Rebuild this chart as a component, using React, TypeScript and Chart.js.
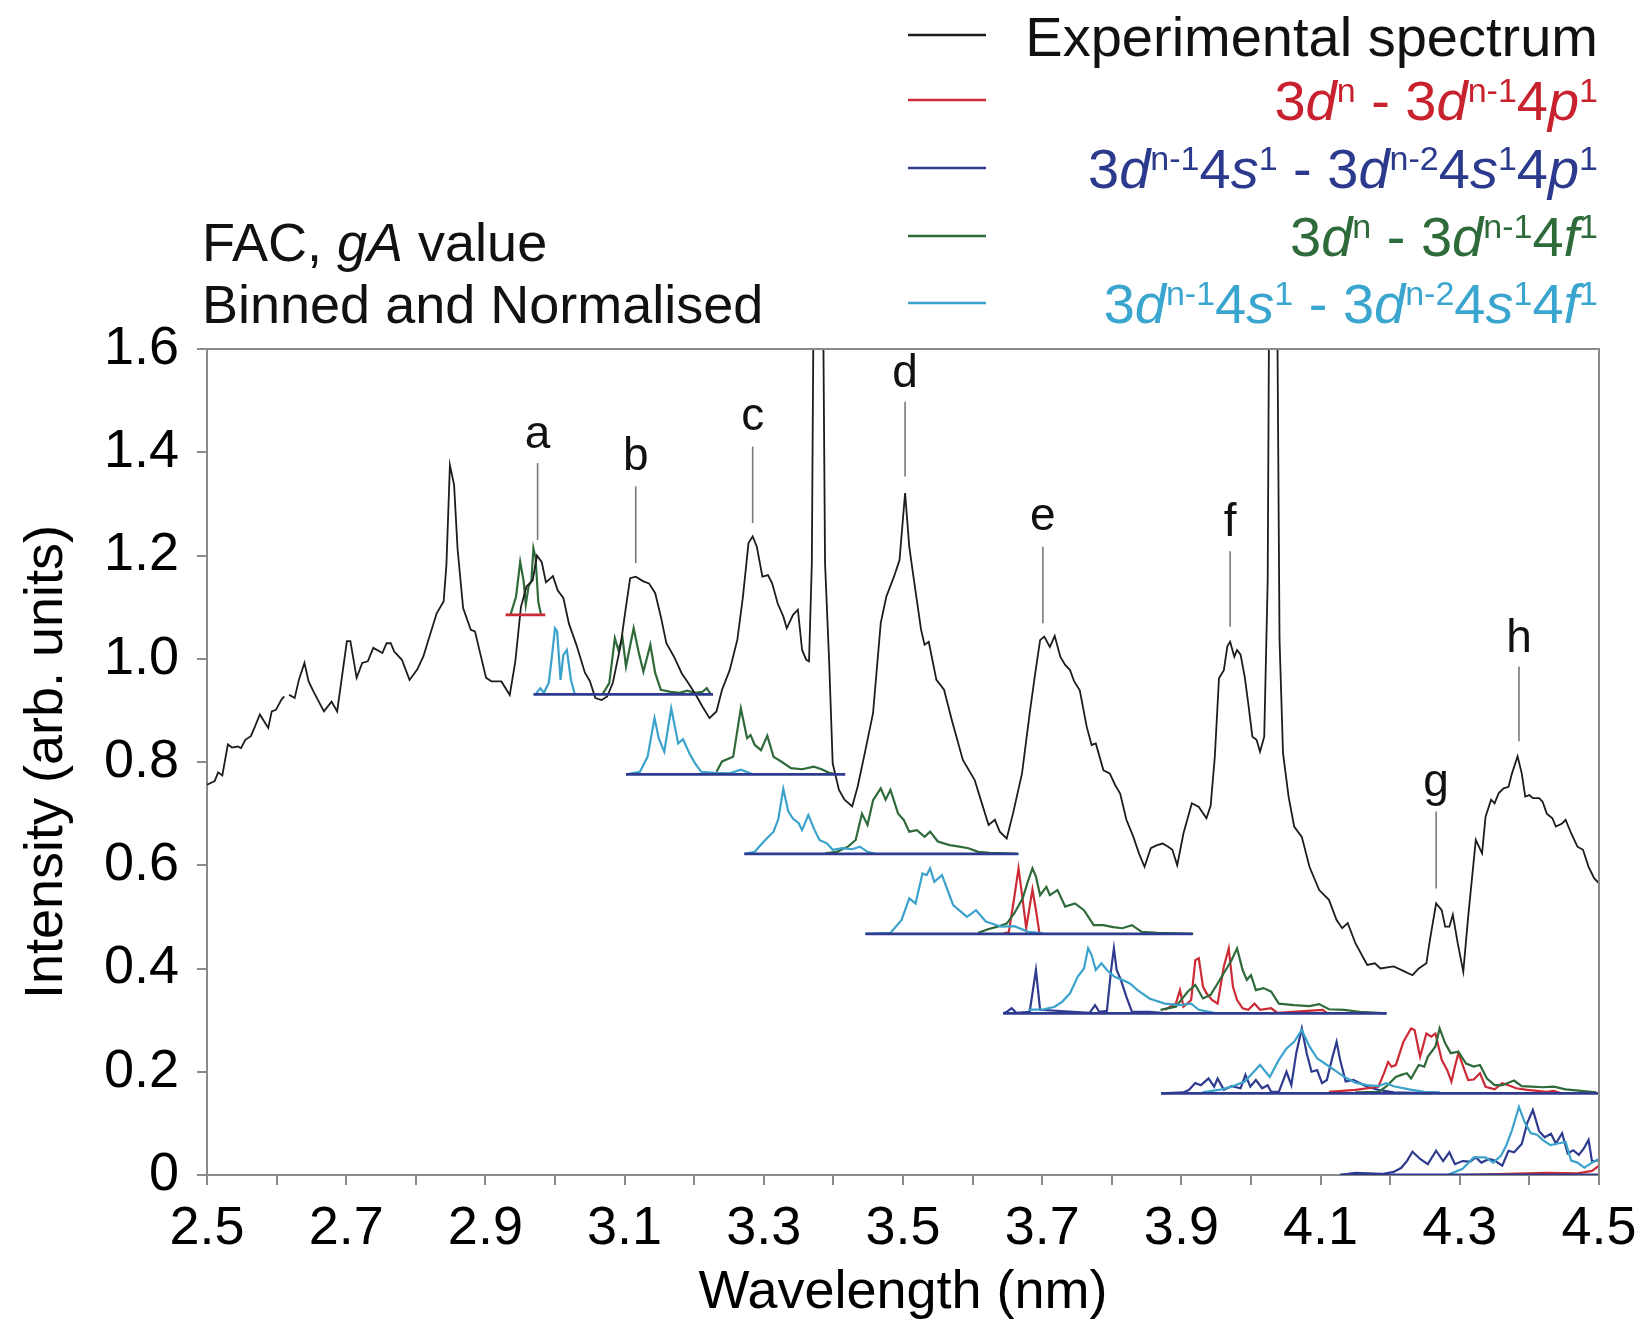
import React, { useEffect, useRef } from 'react';
import { Chart, registerables } from 'chart.js';

Chart.register(...registerables);

const FONT = "'Liberation Sans', Arial, Helvetica, sans-serif";

// ---------- Experimental spectrum ----------
const expWavelength = [
  2.5, 2.511, 2.516, 2.522, 2.53, 2.536, 2.544, 2.549, 2.555, 2.563, 2.569, 2.576, 2.582, 2.588, 2.593, 2.599, 2.607, 2.611, 2.614,
  2.618, 2.626, 2.632, 2.64, 2.646, 2.654, 2.668, 2.679, 2.687, 2.701, 2.706, 2.715, 2.723, 2.731, 2.739, 2.752, 2.758, 2.764, 2.769,
  2.78, 2.791, 2.802, 2.811, 2.819, 2.83, 2.84, 2.844, 2.849, 2.855, 2.86, 2.868, 2.879, 2.885, 2.901, 2.909, 2.923, 2.935, 2.943,
  2.951, 2.959, 2.968, 2.974, 2.981, 2.987, 2.997, 3.004, 3.012, 3.02, 3.031, 3.043, 3.05, 3.058, 3.067, 3.075, 3.083, 3.094, 3.102,
  3.108, 3.116, 3.127, 3.135, 3.144, 3.152, 3.16, 3.171, 3.182, 3.19, 3.201, 3.212, 3.222, 3.232, 3.24, 3.251, 3.262, 3.27, 3.278,
  3.284, 3.29, 3.298, 3.306, 3.312, 3.32, 3.328, 3.333, 3.342, 3.349, 3.355, 3.361, 3.365, 3.369, 3.378, 3.388, 3.394, 3.399, 3.408,
  3.416, 3.427, 3.435, 3.446, 3.457, 3.468, 3.476, 3.487, 3.495, 3.503, 3.509, 3.515, 3.526, 3.531, 3.537, 3.548, 3.559, 3.57, 3.586,
  3.603, 3.611, 3.623, 3.632, 3.639, 3.649, 3.658, 3.671, 3.682, 3.69, 3.697, 3.703, 3.711, 3.718, 3.726, 3.733, 3.74, 3.746, 3.754,
  3.764, 3.771, 3.777, 3.788, 3.797, 3.805, 3.812, 3.821, 3.831, 3.839, 3.847, 3.856, 3.865, 3.873, 3.881, 3.887, 3.894, 3.903, 3.915,
  3.925, 3.936, 3.942, 3.948, 3.954, 3.961, 3.966, 3.97, 3.976, 3.98, 3.985, 3.991, 3.996, 4.002, 4.008, 4.013, 4.019, 4.024, 4.031,
  4.041, 4.046, 4.054, 4.062, 4.073, 4.084, 4.098, 4.112, 4.123, 4.131, 4.139, 4.15, 4.167, 4.178, 4.186, 4.205, 4.221, 4.232, 4.241,
  4.252, 4.257, 4.266, 4.274, 4.279, 4.285, 4.29, 4.297, 4.305, 4.312, 4.323, 4.332, 4.337, 4.345, 4.35, 4.356, 4.363, 4.37, 4.375,
  4.383, 4.389, 4.394, 4.4, 4.405, 4.414, 4.419, 4.425, 4.433, 4.438, 4.447, 4.452, 4.46, 4.469, 4.477, 4.485, 4.493, 4.5,
];
const expIntensity: (number | null)[] = [
  0.756, 0.763, 0.78, 0.774, 0.834, 0.828, 0.83, 0.827, 0.843, 0.85, 0.869, 0.892, 0.879, 0.866, 0.898, 0.901, 0.921, 0.927, null,
  0.93, 0.924, 0.959, 0.992, 0.956, 0.934, 0.898, 0.917, 0.898, 1.034, 1.034, 0.963, 0.992, 0.995, 1.021, 1.011, 1.03, 1.03, 1.014,
  0.998, 0.959, 0.979, 1.005, 1.04, 1.088, 1.111, 1.182, 1.375, 1.337, 1.213, 1.098, 1.056, 1.053, 0.963, 0.956, 0.956, 0.93, 0.995,
  1.1, 1.14, 1.152, 1.2, 1.187, 1.148, 1.16, 1.132, 1.118, 1.068, 1.026, 0.973, 0.957, 0.924, 0.92, 0.927, 0.953, 1.024, 1.101,
  1.156, 1.159, 1.15, 1.146, 1.127, 1.082, 1.03, 1.004, 0.972, 0.956, 0.933, 0.907, 0.885, 0.898, 0.94, 0.978, 1.037, 1.12, 1.224,
  1.237, 1.217, 1.159, 1.162, 1.146, 1.107, 1.082, 1.059, 1.085, 1.095, 1.017, 0.998, 0.995, 1.185, 3.0, 1.185, 0.991, 0.797, 0.746,
  0.727, 0.714, 0.753, 0.823, 0.895, 1.069, 1.12, 1.159, 1.191, 1.321, 1.217, 1.159, 1.056, 1.027, 1.033, 0.959, 0.94, 0.882, 0.804,
  0.765, 0.73, 0.678, 0.688, 0.665, 0.652, 0.7, 0.778, 0.894, 0.972, 1.036, 1.043, 1.023, 1.044, 1.004, 0.988, 0.978, 0.956, 0.939,
  0.868, 0.833, 0.836, 0.784, 0.778, 0.755, 0.739, 0.688, 0.655, 0.623, 0.597, 0.633, 0.639, 0.642, 0.636, 0.63, 0.6, 0.662, 0.72,
  0.713, 0.691, 0.715, 0.81, 0.962, 0.978, 1.024, 1.033, 1.004, 1.017, 1.008, 0.965, 0.914, 0.849, 0.843, 0.82, 0.849, 1.153, 3.0,
  1.037, 0.817, 0.733, 0.675, 0.655, 0.597, 0.552, 0.533, 0.494, 0.478, 0.488, 0.449, 0.407, 0.41, 0.4, 0.404, 0.394, 0.387, 0.4,
  0.41, 0.455, 0.526, 0.513, 0.481, 0.481, 0.504, 0.449, 0.394, 0.5, 0.649, 0.623, 0.694, 0.727, 0.72, 0.74, 0.749, 0.752, 0.778,
  0.811, 0.778, 0.733, 0.736, 0.73, 0.73, 0.723, 0.7, 0.691, 0.675, 0.681, 0.688, 0.662, 0.636, 0.63, 0.597, 0.575, 0.565,
];

// ---------- Simulated (FAC) offset spectra, [wavelength, intensity] ----------
const simA_green = [[2.936,1.085],[2.944,1.12],[2.95,1.188],[2.955,1.15],[2.958,1.105],[2.962,1.14],[2.966,1.15],[2.969,1.214],[2.972,1.196],[2.976,1.11],[2.98,1.085]];

const simB_cyan = [[2.973,0.933],[2.979,0.943],[2.984,0.934],[2.991,0.953],[2.995,0.998],[3.0,1.059],[3.003,1.053],[3.008,0.959],[3.012,1.007],[3.017,1.017],[3.023,0.959],[3.028,0.933]];
const simB_green = [[3.069,0.933],[3.078,0.953],[3.086,1.04],[3.091,1.017],[3.097,1.04],[3.102,0.985],[3.113,1.059],[3.12,1.014],[3.127,0.975],[3.137,1.027],[3.144,0.972],[3.152,0.94],[3.166,0.936],[3.179,0.934],[3.19,0.938],[3.201,0.934],[3.212,0.936],[3.218,0.943],[3.223,0.933]];

const simC_cyan = [[3.102,0.776],[3.122,0.781],[3.133,0.81],[3.143,0.885],[3.149,0.846],[3.157,0.82],[3.167,0.904],[3.177,0.836],[3.184,0.844],[3.193,0.817],[3.201,0.798],[3.21,0.781],[3.229,0.779],[3.251,0.778],[3.267,0.785],[3.284,0.776]];
const simC_green = [[3.232,0.781],[3.24,0.801],[3.256,0.81],[3.267,0.904],[3.276,0.846],[3.281,0.852],[3.287,0.833],[3.296,0.823],[3.305,0.851],[3.314,0.81],[3.325,0.801],[3.339,0.788],[3.355,0.786],[3.372,0.791],[3.383,0.786],[3.394,0.779],[3.405,0.776]];

const simD_cyan = [[3.272,0.622],[3.287,0.626],[3.3,0.646],[3.314,0.665],[3.321,0.69],[3.328,0.748],[3.335,0.705],[3.342,0.69],[3.35,0.682],[3.355,0.668],[3.364,0.697],[3.373,0.668],[3.38,0.649],[3.391,0.642],[3.399,0.63],[3.413,0.633],[3.427,0.631],[3.438,0.636],[3.449,0.626],[3.46,0.622]];
const simD_green = [[3.388,0.623],[3.405,0.626],[3.421,0.636],[3.432,0.649],[3.441,0.7],[3.449,0.678],[3.457,0.726],[3.468,0.749],[3.475,0.727],[3.482,0.746],[3.493,0.7],[3.501,0.688],[3.509,0.665],[3.52,0.668],[3.531,0.655],[3.539,0.665],[3.55,0.646],[3.567,0.639],[3.581,0.636],[3.594,0.633],[3.608,0.626],[3.625,0.624],[3.647,0.623],[3.663,0.622]];

const simE_cyan = [[3.446,0.467],[3.482,0.469],[3.498,0.494],[3.509,0.536],[3.518,0.526],[3.528,0.584],[3.534,0.581],[3.539,0.594],[3.545,0.568],[3.556,0.581],[3.572,0.523],[3.592,0.5],[3.605,0.513],[3.619,0.491],[3.641,0.481],[3.66,0.482],[3.68,0.471],[3.702,0.468]];
const simE_red = [[3.645,0.468],[3.652,0.47],[3.66,0.539],[3.666,0.594],[3.672,0.533],[3.677,0.478],[3.682,0.52],[3.686,0.553],[3.691,0.513],[3.696,0.469]];
const simE_green = [[3.608,0.469],[3.622,0.476],[3.636,0.481],[3.649,0.487],[3.66,0.507],[3.672,0.536],[3.68,0.571],[3.686,0.594],[3.691,0.578],[3.697,0.542],[3.706,0.558],[3.711,0.542],[3.722,0.552],[3.733,0.52],[3.747,0.526],[3.76,0.513],[3.774,0.484],[3.788,0.484],[3.802,0.48],[3.815,0.478],[3.829,0.484],[3.843,0.471],[3.865,0.469],[3.892,0.468],[3.917,0.467]];

const simF_blue = [[3.644,0.313],[3.649,0.316],[3.656,0.323],[3.663,0.314],[3.682,0.316],[3.691,0.397],[3.697,0.32],[3.768,0.314],[3.776,0.329],[3.782,0.316],[3.793,0.318],[3.799,0.397],[3.803,0.439],[3.807,0.397],[3.813,0.378],[3.821,0.345],[3.829,0.316],[3.854,0.316],[3.88,0.313]];
const simF_cyan = [[3.68,0.32],[3.702,0.321],[3.718,0.326],[3.729,0.336],[3.74,0.352],[3.751,0.384],[3.76,0.4],[3.766,0.439],[3.771,0.426],[3.777,0.397],[3.785,0.41],[3.793,0.397],[3.804,0.384],[3.815,0.378],[3.826,0.371],[3.837,0.358],[3.854,0.342],[3.876,0.332],[3.898,0.329],[3.914,0.332],[3.925,0.32],[3.947,0.314]];
const simF_red = [[3.876,0.32],[3.892,0.332],[3.898,0.358],[3.903,0.326],[3.914,0.339],[3.92,0.416],[3.925,0.42],[3.931,0.365],[3.936,0.352],[3.944,0.339],[3.952,0.332],[3.961,0.404],[3.968,0.439],[3.974,0.365],[3.98,0.339],[3.988,0.323],[3.996,0.32],[4.005,0.332],[4.013,0.32],[4.029,0.323],[4.038,0.314],[4.103,0.32],[4.109,0.314]];
const simF_green = [[3.87,0.32],[3.892,0.326],[3.909,0.355],[3.92,0.368],[3.931,0.342],[3.942,0.349],[3.952,0.371],[3.965,0.4],[3.972,0.416],[3.98,0.439],[3.988,0.397],[3.994,0.378],[4.0,0.387],[4.007,0.358],[4.018,0.362],[4.029,0.355],[4.04,0.332],[4.062,0.329],[4.084,0.327],[4.098,0.331],[4.112,0.321],[4.134,0.32],[4.156,0.316],[4.183,0.314],[4.194,0.313]];

const simG_blue = [[3.871,0.158],[3.903,0.16],[3.911,0.165],[3.92,0.178],[3.928,0.174],[3.939,0.187],[3.947,0.171],[3.952,0.187],[3.961,0.165],[3.972,0.172],[3.985,0.168],[3.992,0.194],[3.999,0.171],[4.007,0.184],[4.016,0.168],[4.024,0.174],[4.029,0.161],[4.04,0.161],[4.051,0.2],[4.058,0.174],[4.065,0.236],[4.073,0.284],[4.08,0.236],[4.087,0.2],[4.095,0.203],[4.102,0.178],[4.109,0.184],[4.116,0.223],[4.123,0.258],[4.128,0.223],[4.136,0.181],[4.147,0.184],[4.156,0.178],[4.167,0.171],[4.183,0.165],[4.205,0.16],[4.26,0.158]];
const simG_cyan = [[3.93,0.16],[3.958,0.166],[3.974,0.172],[3.991,0.181],[4.002,0.197],[4.013,0.213],[4.027,0.19],[4.04,0.223],[4.051,0.245],[4.062,0.258],[4.073,0.281],[4.084,0.249],[4.095,0.226],[4.106,0.216],[4.12,0.203],[4.134,0.19],[4.15,0.179],[4.167,0.174],[4.183,0.172],[4.194,0.178],[4.205,0.172],[4.227,0.166],[4.249,0.161],[4.271,0.16]];
const simG_red = [[4.112,0.161],[4.15,0.165],[4.183,0.171],[4.191,0.197],[4.197,0.219],[4.202,0.21],[4.208,0.213],[4.219,0.258],[4.23,0.284],[4.235,0.281],[4.243,0.229],[4.252,0.274],[4.259,0.268],[4.265,0.274],[4.274,0.223],[4.282,0.203],[4.288,0.181],[4.293,0.21],[4.298,0.236],[4.305,0.21],[4.312,0.184],[4.32,0.185],[4.329,0.197],[4.337,0.171],[4.35,0.166],[4.361,0.178],[4.37,0.174],[4.381,0.168],[4.397,0.165],[4.425,0.161],[4.435,0.163],[4.447,0.158]];
const simG_green = [[4.15,0.16],[4.183,0.161],[4.194,0.171],[4.208,0.19],[4.216,0.194],[4.224,0.197],[4.23,0.187],[4.241,0.213],[4.249,0.21],[4.254,0.229],[4.265,0.249],[4.271,0.284],[4.279,0.255],[4.287,0.236],[4.298,0.239],[4.309,0.216],[4.32,0.21],[4.329,0.213],[4.339,0.187],[4.35,0.174],[4.361,0.174],[4.378,0.183],[4.389,0.172],[4.403,0.171],[4.419,0.17],[4.435,0.171],[4.452,0.166],[4.474,0.163],[4.496,0.16]];

const simH_blue = [[4.128,0.0],[4.15,0.004],[4.188,0.002],[4.205,0.006],[4.216,0.014],[4.224,0.027],[4.232,0.045],[4.243,0.031],[4.254,0.021],[4.266,0.047],[4.276,0.027],[4.285,0.044],[4.293,0.021],[4.304,0.027],[4.315,0.026],[4.323,0.034],[4.331,0.024],[4.342,0.031],[4.35,0.028],[4.361,0.018],[4.37,0.047],[4.378,0.044],[4.389,0.06],[4.397,0.101],[4.405,0.126],[4.414,0.085],[4.422,0.073],[4.431,0.08],[4.438,0.061],[4.447,0.081],[4.455,0.042],[4.463,0.048],[4.471,0.039],[4.478,0.051],[4.485,0.068],[4.49,0.026],[4.5,0.029]];
const simH_cyan = [[4.282,0.0],[4.304,0.012],[4.32,0.034],[4.337,0.034],[4.348,0.024],[4.359,0.037],[4.367,0.058],[4.375,0.087],[4.385,0.132],[4.393,0.103],[4.402,0.081],[4.411,0.078],[4.419,0.068],[4.43,0.058],[4.441,0.061],[4.452,0.064],[4.46,0.028],[4.469,0.024],[4.479,0.014],[4.49,0.024],[4.5,0.031]];
const simH_red = [[4.3,0.0],[4.425,0.004],[4.469,0.003],[4.49,0.008],[4.5,0.018]];

// ---------- Offset baselines of the simulated spectra ----------
const baselineLevel = [1.085, 0.931, 0.776, 0.622, 0.467, 0.313, 0.158, 0.0];
const baselineStart = [2.929, 2.969, 3.102, 3.272, 3.446, 3.644, 3.871, 4.128];
const baselineEnd = [2.986, 3.227, 3.417, 3.666, 3.916, 4.195, 4.5, 4.5];

// ---------- Peak labels ----------
const peakLetters = ['a', 'b', 'c', 'd', 'e', 'f', 'g', 'h'];
const peakWavelength = [2.975, 3.116, 3.284, 3.503, 3.701, 3.97, 4.266, 4.385];
const peakTextBase = [1.408, 1.366, 1.443, 1.527, 1.25, 1.237, 0.735, 1.014];
const peakLineTop = [1.379, 1.334, 1.411, 1.498, 1.217, 1.208, 0.704, 0.985];
const peakLineBottom = [1.23, 1.185, 1.263, 1.353, 1.069, 1.062, 0.555, 0.84];

// ---------- Colours ----------
const C_BLACK = '#1c1c1c';
const C_RED = '#cc2b36';
const C_BLUE = '#2e3b8e';
const C_GREEN = '#2f6a3b';
const C_CYAN = '#3ba3cb';
const C_AXIS = '#8a8a8a';

type Seg = { t: string; it?: boolean; sup?: boolean };
const legendRows: { color: string; segs: Seg[] }[] = [
  { color: '#111111', segs: [{ t: 'Experimental spectrum' }] },
  { color: '#c8222f', segs: [{ t: '3' }, { t: 'd', it: true }, { t: 'n', sup: true }, { t: ' - 3' }, { t: 'd', it: true }, { t: 'n-1', sup: true }, { t: '4' }, { t: 'p', it: true }, { t: '1', sup: true }] },
  { color: '#2b3a8c', segs: [{ t: '3' }, { t: 'd', it: true }, { t: 'n-1', sup: true }, { t: '4' }, { t: 's', it: true }, { t: '1', sup: true }, { t: ' - 3' }, { t: 'd', it: true }, { t: 'n-2', sup: true }, { t: '4' }, { t: 's', it: true }, { t: '1', sup: true }, { t: '4' }, { t: 'p', it: true }, { t: '1', sup: true }] },
  { color: '#2e6a3a', segs: [{ t: '3' }, { t: 'd', it: true }, { t: 'n', sup: true }, { t: ' - 3' }, { t: 'd', it: true }, { t: 'n-1', sup: true }, { t: '4' }, { t: 'f', it: true }, { t: '1', sup: true }] },
  { color: '#3aa6cf', segs: [{ t: '3' }, { t: 'd', it: true }, { t: 'n-1', sup: true }, { t: '4' }, { t: 's', it: true }, { t: '1', sup: true }, { t: ' - 3' }, { t: 'd', it: true }, { t: 'n-2', sup: true }, { t: '4' }, { t: 's', it: true }, { t: '1', sup: true }, { t: '4' }, { t: 'f', it: true }, { t: '1', sup: true }] },
];
const legendLineColors = [C_BLACK, C_RED, C_BLUE, C_GREEN, C_CYAN];

function drawRich(ctx: CanvasRenderingContext2D, segs: Seg[], anchorX: number, baseY: number, color: string, size: number, align: 'left' | 'right') {
  const fontOf = (s: Seg) => `${s.it ? 'italic ' : ''}${s.sup ? Math.round(size * 0.6) : size}px ${FONT}`;
  let w = 0;
  for (const s of segs) {
    ctx.font = fontOf(s);
    w += ctx.measureText(s.t).width;
  }
  let x = align === 'right' ? anchorX - w : anchorX;
  ctx.fillStyle = color;
  ctx.textAlign = 'left';
  ctx.textBaseline = 'alphabetic';
  for (const s of segs) {
    ctx.font = fontOf(s);
    ctx.fillText(s.t, x, s.sup ? baseY - size * 0.33 : baseY);
    x += ctx.measureText(s.t).width;
  }
}

const decorPlugin = {
  id: 'decor',
  afterDatasetsDraw(chart: any) {
    const { ctx, chartArea, scales } = chart;
    const xs = scales.x;
    const ys = scales.y;
    ctx.save();
    // frame (top & right)
    ctx.strokeStyle = C_AXIS;
    ctx.lineWidth = 2;
    ctx.beginPath();
    ctx.moveTo(chartArea.left, chartArea.top);
    ctx.lineTo(chartArea.right, chartArea.top);
    ctx.lineTo(chartArea.right, chartArea.bottom);
    ctx.stroke();
    // peak labels
    ctx.strokeStyle = '#7a7a7a';
    ctx.lineWidth = 1.6;
    for (let i = 0; i < peakLetters.length; i++) {
      const px = xs.getPixelForValue(peakWavelength[i]);
      ctx.beginPath();
      ctx.moveTo(px, ys.getPixelForValue(peakLineTop[i]));
      ctx.lineTo(px, ys.getPixelForValue(peakLineBottom[i]));
      ctx.stroke();
      ctx.fillStyle = '#111';
      ctx.font = `46px ${FONT}`;
      ctx.textAlign = 'center';
      ctx.textBaseline = 'alphabetic';
      ctx.fillText(peakLetters[i], px, ys.getPixelForValue(peakTextBase[i]));
    }
    ctx.restore();
  },
  afterDraw(chart: any) {
    const { ctx } = chart;
    ctx.save();
    // legend
    const rowBase = [56, 120, 188, 256, 323];
    const rowLine = [35, 100, 168, 236, 303];
    for (let i = 0; i < legendRows.length; i++) {
      ctx.strokeStyle = legendLineColors[i];
      ctx.lineWidth = 2.5;
      ctx.beginPath();
      ctx.moveTo(908, rowLine[i]);
      ctx.lineTo(986, rowLine[i]);
      ctx.stroke();
      drawRich(ctx, legendRows[i].segs, 1598, rowBase[i], legendRows[i].color, 56, 'right');
    }
    // method note
    drawRich(ctx, [{ t: 'FAC, ' }, { t: 'gA', it: true }, { t: ' value' }], 202, 261, '#111', 54, 'left');
    drawRich(ctx, [{ t: 'Binned and Normalised' }], 202, 323, '#111', 54, 'left');
    ctx.restore();
  },
};

export default function App() {
  const canvasRef = useRef<HTMLCanvasElement | null>(null);

  useEffect(() => {
    const canvas = canvasRef.current;
    if (!canvas) return;

    const toPts = (arr: number[][]) => arr.map(([x, y]) => ({ x, y }));
    const line = (data: any[], color: string, width: number, order: number) => ({
      data,
      borderColor: color,
      backgroundColor: color,
      borderWidth: width,
      pointRadius: 0,
      pointHoverRadius: 0,
      tension: 0,
      fill: false,
      spanGaps: false,
      order,
    });

    const datasets: any[] = [];
    baselineLevel.forEach((lvl, i) => {
      datasets.push(line([{ x: baselineStart[i], y: lvl }, { x: baselineEnd[i], y: lvl }], i === 0 ? C_RED : C_BLUE, 2.8, 0));
    });
    datasets.push(line(expWavelength.map((x, i) => ({ x, y: expIntensity[i] })), C_BLACK, 1.8, 1));

    const traces: [number[][], string][] = [
      [simA_green, C_GREEN],
      [simB_cyan, C_CYAN], [simB_green, C_GREEN],
      [simC_cyan, C_CYAN], [simC_green, C_GREEN],
      [simD_cyan, C_CYAN], [simD_green, C_GREEN],
      [simE_cyan, C_CYAN], [simE_green, C_GREEN], [simE_red, C_RED],
      [simF_cyan, C_CYAN], [simF_green, C_GREEN], [simF_red, C_RED], [simF_blue, C_BLUE],
      [simG_cyan, C_CYAN], [simG_green, C_GREEN], [simG_red, C_RED], [simG_blue, C_BLUE],
      [simH_cyan, C_CYAN], [simH_red, C_RED], [simH_blue, C_BLUE],
    ];
    traces.forEach(([arr, c], k) => datasets.push(line(toPts(arr), c, 2.2, 2 + k * 0.01)));

    const chart = new Chart(canvas, {
      type: 'line',
      data: { datasets },
      options: {
        animation: false,
        responsive: true,
        maintainAspectRatio: false,
        events: [],
        layout: { padding: { left: 0, right: 50, top: 349, bottom: 0 } },
        plugins: { legend: { display: false }, tooltip: { enabled: false } },
        scales: {
          x: {
            type: 'linear',
            min: 2.5,
            max: 4.5,
            afterFit: (s: any) => { s.height = 151; },
            ticks: {
              stepSize: 0.1,
              autoSkip: false,
              maxRotation: 0,
              minRotation: 0,
              padding: 12,
              color: '#000',
              font: { family: FONT, size: 54 },
              callback: (v: any) => (Math.round(Number(v) * 10) % 2 === 1 ? Number(v).toFixed(1) : ''),
            },
            grid: { drawOnChartArea: false, drawTicks: true, tickLength: 10, color: C_AXIS, lineWidth: 2 },
            border: { display: true, color: C_AXIS, width: 2 },
            title: {
              display: true,
              text: 'Wavelength (nm)',
              color: '#000',
              font: { family: FONT, size: 54, lineHeight: 1.2 },
              padding: { top: 0, bottom: 0 },
            },
          },
          y: {
            type: 'linear',
            min: 0,
            max: 1.6,
            afterFit: (s: any) => { s.width = 207; },
            ticks: {
              stepSize: 0.2,
              padding: 18,
              color: '#000',
              font: { family: FONT, size: 54 },
              callback: (v: any) => (Math.abs(Number(v)) < 1e-9 ? '0' : Number(v).toFixed(1)),
            },
            grid: { drawOnChartArea: false, drawTicks: true, tickLength: 10, color: C_AXIS, lineWidth: 2 },
            border: { display: true, color: C_AXIS, width: 2 },
            title: {
              display: true,
              text: 'Intensity (arb. units)',
              color: '#000',
              font: { family: FONT, size: 54, lineHeight: 1.2 },
              padding: { top: 15, bottom: 0 },
            },
          },
        },
      },
      plugins: [decorPlugin],
    });

    return () => chart.destroy();
  }, []);

  return (
    <div style={{ position: 'absolute', left: 0, top: 0, width: 1649, height: 1326, background: '#fff' }}>
      <canvas ref={canvasRef} />
    </div>
  );
}
